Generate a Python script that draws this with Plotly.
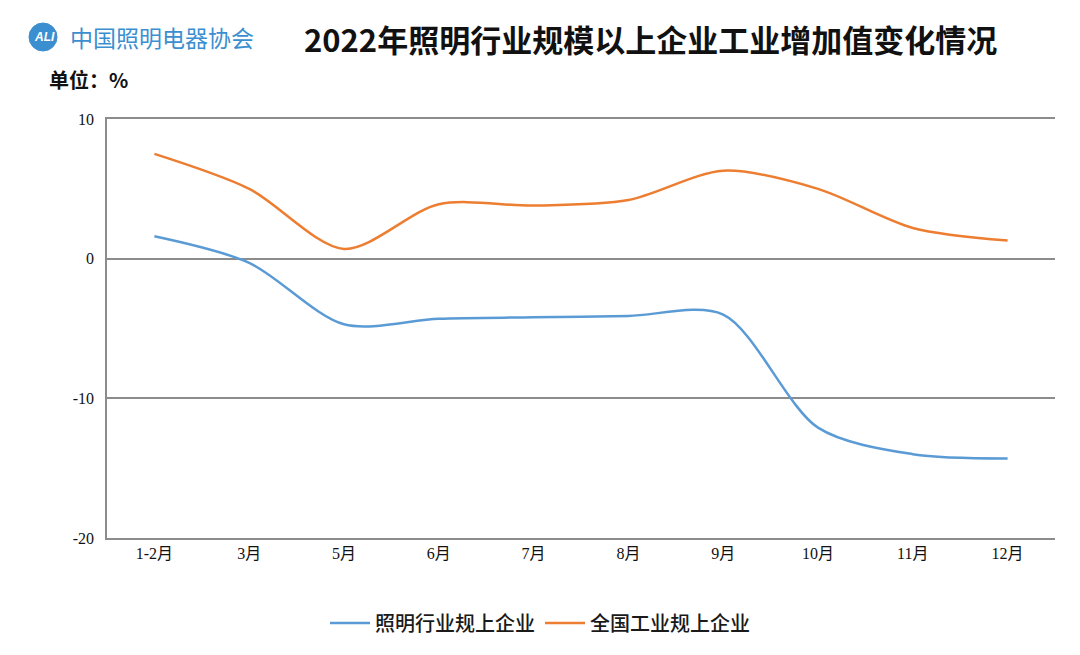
import plotly.graph_objects as go

months = ["1-2月", "3月", "5月", "6月", "7月", "8月", "9月", "10月", "11月", "12月"]
lighting = [1.6, -0.3, -4.7, -4.3, -4.2, -4.1, -4.0, -12.1, -14.0, -14.3]
national = [7.5, 5.0, 0.7, 3.9, 3.8, 4.2, 6.3, 5.0, 2.2, 1.3]
y_ticks = [-20, -10, 0, 10]
y_tick_text = ["-20", "-10", "0", "10"]

serif = "Liberation Serif, Times New Roman, Noto Sans CJK SC, serif"
L, R, T, B = 107, 25, 119, 117
W, H = 1080, 655
pw, ph = W - L - R, H - T - B


def px(x):
    return (x - L) / pw


def py(y):
    return 1 - (y - T) / ph


fig = go.Figure()
fig.add_trace(go.Scatter(
    x=months, y=lighting, mode="lines", name="照明行业规上企业",
    line=dict(color="#5B9BD5", width=2.5, shape="spline", smoothing=0.85),
))
fig.add_trace(go.Scatter(
    x=months, y=national, mode="lines", name="全国工业规上企业",
    line=dict(color="#ED7D31", width=2.5, shape="spline", smoothing=0.85),
))

cx, cy, r = 43, 37, 14
fig.update_layout(
    width=W, height=H,
    margin=dict(l=L, r=R, t=T, b=B),
    paper_bgcolor="white", plot_bgcolor="white",
    font=dict(family=serif, color="#111", size=16),
    showlegend=True,
    legend=dict(orientation="h", x=px(540), xanchor="center", y=py(623), yanchor="middle",
                font=dict(size=20, family="Noto Sans CJK SC, sans-serif", color="#1a1a1a", weight=500),
                itemwidth=40, tracegroupgap=0),
    annotations=[
        dict(text="<b>2022年照明行业规模以上企业工业增加值变化情况</b>", x=px(650), y=py(38),
             xref="paper", yref="paper", showarrow=False, xanchor="center", yanchor="middle",
             font=dict(size=31, family="Noto Sans CJK SC, serif", color="#111")),
        dict(text="<b>单位：%</b>", x=px(47), y=py(80), xref="paper", yref="paper",
             showarrow=False, xanchor="left", yanchor="middle",
             font=dict(size=20, family="Noto Sans CJK SC, serif", color="#111")),
        dict(text="中国照明电器协会", x=px(68), y=py(37), xref="paper", yref="paper",
             showarrow=False, xanchor="left", yanchor="middle",
             font=dict(size=23, family="Noto Sans CJK SC, sans-serif", color="#3B8FD0")),
        dict(text="<b><i>ALI</i></b>", x=px(cx + 2), y=py(cy), xref="paper", yref="paper",
             showarrow=False, xanchor="center", yanchor="middle",
             font=dict(size=12, family="Liberation Sans, sans-serif", color="white")),
    ],
    shapes=[dict(type="circle", xref="paper", yref="paper",
                 x0=px(cx - r), x1=px(cx + r), y0=py(cy + r), y1=py(cy - r),
                 fillcolor="#3B8FD0", line=dict(color="#3B8FD0", width=1), layer="below")],
)

fig.update_xaxes(
    type="category", range=[-0.5, 9.5], showgrid=False, zeroline=False,
    showline=True, linecolor="#8c8c8c", linewidth=1.5, mirror=True,
    ticks="", tickfont=dict(size=16, family=serif, color="#111"),
)
fig.update_yaxes(
    range=[-20, 10], tickvals=y_ticks, ticktext=y_tick_text, showgrid=True,
    gridcolor="#8c8c8c", gridwidth=1.5, ticklabelstandoff=8,
    zeroline=False, showline=True, linecolor="#8c8c8c", linewidth=1.5,
    ticks="", tickfont=dict(size=16, family=serif, color="#111"),
)

fig.write_html("out.html")
